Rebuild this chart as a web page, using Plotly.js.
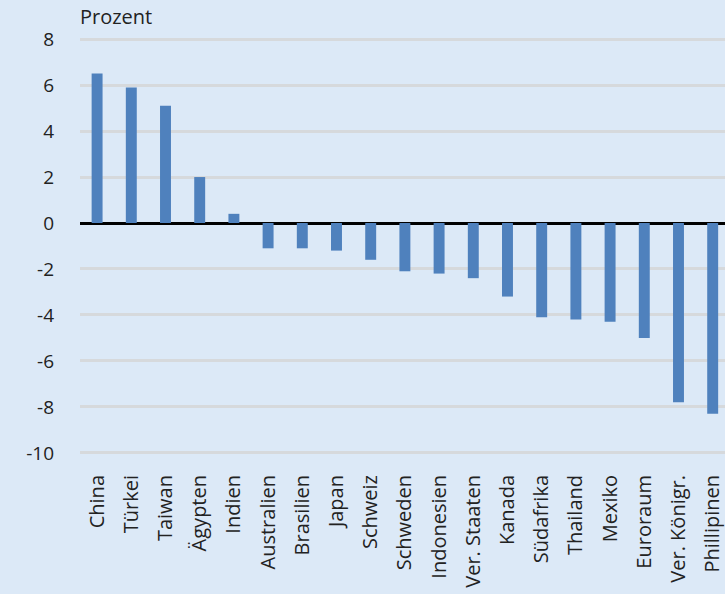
<!DOCTYPE html>
<html>
<head>
<meta charset="utf-8">
<script src="https://cdn.plot.ly/plotly-3.0.1.min.js"></script>
<style>html,body{margin:0;padding:0;background:#dce9f7;}#chart{width:725px;height:594px;}</style>
</head>
<body>
<div id="chart"></div>
<script>
const categories = ["China","Türkei","Taiwan","Ägypten","Indien","Australien","Brasilien","Japan","Schweiz","Schweden","Indonesien","Ver. Staaten","Kanada","Südafrika","Thailand","Mexiko","Euroraum","Ver. Königr.","Phillipinen"];
const values = [6.5, 5.9, 5.1, 2.0, 0.4, -1.1, -1.1, -1.2, -1.6, -2.1, -2.2, -2.4, -3.2, -4.1, -4.2, -4.3, -5.0, -7.8, -8.3];
const yTicks = [8, 6, 4, 2, 0, -2, -4, -6, -8, -10];
const yUnit = "Prozent";

const font = "'Open Sans', sans-serif";
Plotly.newPlot("chart", [{
  type: "bar",
  x: categories,
  y: values,
  marker: {color: "#4f81bd"},
  hoverinfo: "skip"
}], {
  width: 725, height: 594,
  paper_bgcolor: "#dce9f7",
  plot_bgcolor: "#dce9f7",
  margin: {l: 80, r: 0, t: 37.85, b: 139.85},
  bargap: 0.68,
  showlegend: false,
  font: {family: font, color: "#222222"},
  xaxis: {
    type: "category",
    range: [-0.5, 18.36],
    tickangle: -90,
    tickfont: {size: 20, family: font, color: "#222222"},
    showgrid: false,
    zeroline: false,
    showline: false,
    ticks: "",
    ticklabelstandoff: 16,
    fixedrange: true
  },
  yaxis: {
    range: [-10.05, 8.05],
    tickvals: yTicks,
    ticktext: yTicks.map(String),
    tickfont: {size: 19, family: font, color: "#222222"},
    showgrid: true,
    gridcolor: "#d6d9dc",
    gridwidth: 3,
    zeroline: true,
    zerolinecolor: "#000000",
    zerolinewidth: 3,
    showline: false,
    ticks: "",
    ticklabelstandoff: 25,
    fixedrange: true
  },
  annotations: [{
    text: yUnit,
    xref: "paper", yref: "paper",
    x: 0, y: 1, xanchor: "left", yanchor: "bottom",
    yshift: 6, xshift: -2,
    showarrow: false,
    font: {size: 20, family: font, color: "#222222"}
  }]
}, {displayModeBar: false, staticPlot: true});
</script>
</body>
</html>
